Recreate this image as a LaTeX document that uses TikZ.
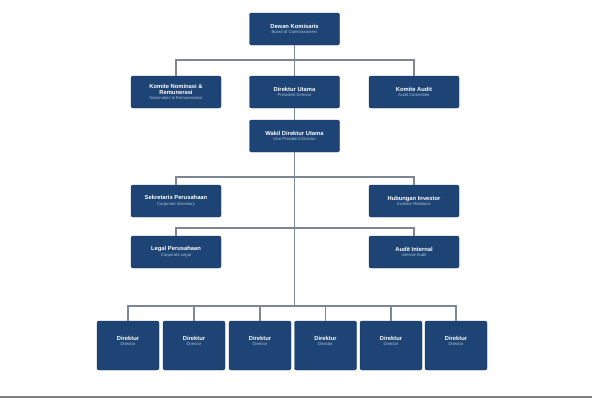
\documentclass[tikz,border=0pt]{standalone}
\usepackage{fontspec}
\setmainfont{Liberation Sans}
\definecolor{navy}{HTML}{1D4474}
\definecolor{wire}{HTML}{7D8794}
\definecolor{subtxt}{HTML}{AFC3DC}
\newcommand{\boxtext}[2]{\textbf{#1}\\[-1pt]{\fontsize{4.2}{4.8}\selectfont\color{subtxt}#2}}

\begin{document}
\begin{tikzpicture}[x=1pt,y=-1pt]
\tikzset{unit/.style = {draw=navy!80!black, fill=navy, rounded corners=2pt, text=white, align=center,
    font=\fontsize{5.8}{6.4}\selectfont, minimum width=90pt, minimum height=32pt, inner sep=1pt}}
\tikzset{director/.style = {unit, minimum width=62pt, minimum height=49pt}}
\tikzset{link/.style = {draw=wire, line width=1.6pt}}

\useasboundingbox (0,0) rectangle (592,400);

% top levels
\node[unit] (dk)  at (294.5,29)  {\boxtext{Dewan Komisaris}{Board of Commissioners}};
\node[unit] (kn)  at (176,92)    {\textbf{Komite Nominasi \&}\\[-1pt]\textbf{Remunerasi}\\[-1pt]{\fontsize{4.2}{4.8}\selectfont\color{subtxt}Nomination \& Remuneration}};
\node[unit] (du)  at (294.5,92)  {\boxtext{Direktur Utama}{President Director}};
\node[unit] (ka)  at (414,92)    {\boxtext{Komite Audit}{Audit Committee}};
\node[unit] (wdu) at (294.5,136) {\boxtext{Wakil Direktur Utama}{Vice President Director}};

% staff units
\node[unit] (sp)  at (176,201) {\boxtext{Sekretaris Perusahaan}{Corporate Secretary}};
\node[unit] (hi)  at (414,201) {\boxtext{Hubungan Investor}{Investor Relations}};
\node[unit] (lp)  at (176,252) {\boxtext{Legal Perusahaan}{Corporate Legal}};
\node[unit] (ai)  at (414,252) {\boxtext{Audit Internal}{Internal Audit}};

% directors
\foreach \i/\x in {1/128,2/194,3/260,4/325.5,5/391,6/456}
  \node[director] (d\i) at (\x,345.5) {\boxtext{Direktur}{Director}\\[3pt]};

\coordinate (bus1) at (294.5,60);
\coordinate (bus2) at (294.5,177);
\coordinate (bus3) at (294.5,228);
\coordinate (bus4) at (294.5,306);

\path[link] (dk) -- (du);
\path[link] (du) -- (wdu);
\path[link] (wdu) -- (bus4);
\path[link] (kn.north) -- (kn.north |- bus1) -- (ka.north |- bus1) -- (ka.north);
\path[link] (sp.north) -- (sp.north |- bus2) -- (hi.north |- bus2) -- (hi.north);
\path[link] (lp.north) -- (lp.north |- bus3) -- (ai.north |- bus3) -- (ai.north);
\path[link] (d1.north) -- (d1.north |- bus4) -- (d6.north |- bus4) -- (d6.north);
\foreach \i in {2,...,5}
  \path[link] (d\i.north) -- (d\i.north |- bus4);

\path[draw=gray, line width=2pt] (0,397) -- (592,397);
\end{tikzpicture}
\end{document}
